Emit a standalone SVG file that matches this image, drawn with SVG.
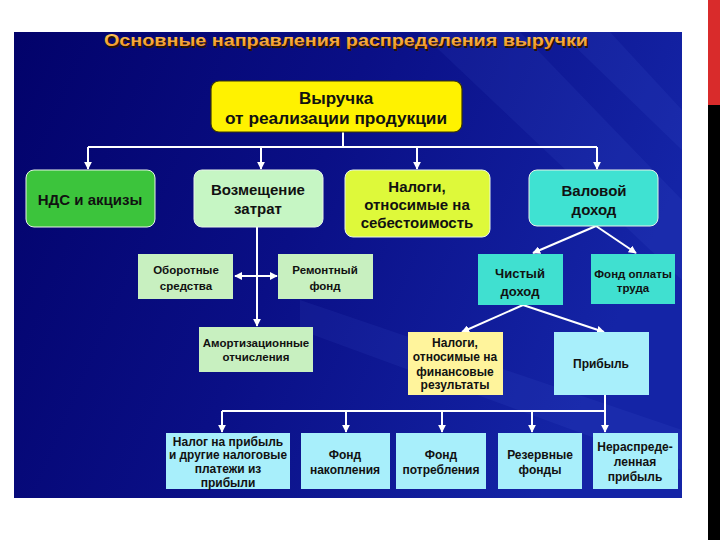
<svg xmlns="http://www.w3.org/2000/svg" width="720" height="540" viewBox="0 0 720 540">
<defs>
<linearGradient id="bg" x1="0" y1="0" x2="1" y2="0.3">
<stop offset="0" stop-color="#02026a"/>
<stop offset="0.5" stop-color="#0a0f86"/>
<stop offset="1" stop-color="#1424a6"/>
</linearGradient>
<linearGradient id="ttl" x1="0" y1="0" x2="0" y2="1">
<stop offset="0" stop-color="#ffd060"/>
<stop offset="1" stop-color="#ee8a1c"/>
</linearGradient>
<marker id="ah" viewBox="0 0 10 10" refX="9" refY="5" markerWidth="8" markerHeight="8" markerUnits="userSpaceOnUse" orient="auto-start-reverse">
<path d="M0,0 L10,5 L0,10 z" fill="#ffffff"/>
</marker>
<style>
.t{font-family:"Liberation Sans",Arial,"DejaVu Sans",sans-serif;font-weight:bold;fill:#111;text-anchor:middle}
.b15{font-size:15px}
.b12{font-size:12px}
.b11{font-size:11.5px}
.ln{stroke:#ffffff;stroke-width:2;fill:none}
.ar{marker-end:url(#ah)}
.bd{stroke:#e8f4e8;stroke-width:1}
</style>
</defs>
<rect x="0" y="0" width="720" height="540" fill="#ffffff"/>
<rect x="708" y="0" width="12" height="105" fill="#d92b2b"/>
<rect x="708" y="105" width="12" height="435" fill="#000000"/>
<rect x="14" y="32" width="668" height="466" fill="url(#bg)"/>
<g opacity="0.07" fill="#6a8cff">
<polygon points="420,32 520,32 682,200 682,280"/>
<polygon points="560,32 610,32 682,110 682,150"/>
<polygon points="300,300 682,430 682,470 300,330"/>
</g>
<g id="title">
<text x="346" y="46" class="t" style="font-size:17px;fill:#2a1400" textLength="484" lengthAdjust="spacingAndGlyphs" transform="translate(1.5,1.5)">Основные направления распределения выручки</text>
<text x="346" y="46" class="t" style="font-size:17px;fill:url(#ttl)" textLength="484" lengthAdjust="spacingAndGlyphs">Основные направления распределения выручки</text>
</g>
<g id="connectors">
<path class="ln" d="M343,132 V147 M88,147 H597"/>
<path class="ln ar" d="M88,147 V169"/>
<path class="ln ar" d="M261,147 V169"/>
<path class="ln ar" d="M417,147 V169"/>
<path class="ln ar" d="M597,147 V169"/>
<path class="ln ar" d="M257,227 V326"/>
<path class="ln" d="M235,276 H277" marker-start="url(#ah)" marker-end="url(#ah)"/>
<path class="ln ar" d="M596,226 L533,253"/>
<path class="ln ar" d="M596,226 L636,253"/>
<path class="ln ar" d="M523,305 L462,332"/>
<path class="ln ar" d="M523,305 L604,332"/>
<path class="ln" d="M605,395 V411 M222,411 H605"/>
<path class="ln ar" d="M222,411 V432"/>
<path class="ln ar" d="M346,411 V432"/>
<path class="ln ar" d="M442,411 V432"/>
<path class="ln ar" d="M532,411 V432"/>
<path class="ln ar" d="M605,411 V432"/>
</g>
<g id="revenue">
<rect x="211" y="81" width="251" height="51" rx="8" fill="#fff200" stroke="#3a3600" stroke-width="1.2"/>
<text x="336" y="104" class="t" style="font-size:17px">Выручка</text>
<text x="336" y="124" class="t" style="font-size:17px" textLength="222" lengthAdjust="spacingAndGlyphs">от реализации продукции</text>
</g>
<g id="nds">
<rect x="26" y="170" width="129" height="57" rx="8" fill="#3cc43c" class="bd"/>
<text x="90" y="205" class="t b15">НДС и акцизы</text>
</g>
<g id="vozmeshchenie">
<rect x="194" y="170" width="129" height="57" rx="8" fill="#c6f6c4" class="bd"/>
<text x="258" y="195" class="t b15">Возмещение</text>
<text x="258" y="214" class="t b15">затрат</text>
</g>
<g id="nalogi-sebestoimost">
<rect x="345" y="170" width="145" height="67" rx="8" fill="#def93a" class="bd"/>
<text x="417" y="192" class="t b15">Налоги,</text>
<text x="417" y="210" class="t b15">относимые на</text>
<text x="417" y="228" class="t b15">себестоимость</text>
</g>
<g id="valovoy">
<rect x="529" y="170" width="129" height="56" rx="8" fill="#3fe2d2" class="bd"/>
<text x="594" y="196" class="t b15">Валовой</text>
<text x="594" y="215" class="t b15">доход</text>
</g>
<g id="oborotnye">
<rect x="138" y="254" width="95" height="45" fill="#c8f0c0"/>
<text x="186" y="274" class="t b11">Оборотные</text>
<text x="186" y="290" class="t b11">средства</text>
</g>
<g id="remontny">
<rect x="278" y="254" width="95" height="45" fill="#c8f0c0"/>
<text x="325" y="274" class="t b11">Ремонтный</text>
<text x="325" y="290" class="t b11">фонд</text>
</g>
<g id="amortizatsiya">
<rect x="199" y="327" width="114" height="45" fill="#c8f0c0"/>
<text x="256" y="347" class="t b11">Амортизационные</text>
<text x="256" y="361" class="t b11">отчисления</text>
</g>
<g id="chistyi">
<rect x="478" y="254" width="85" height="51" fill="#40e0d0"/>
<text x="520" y="278" class="t" style="font-size:13px">Чистый</text>
<text x="520" y="296" class="t" style="font-size:13px">доход</text>
</g>
<g id="fond-oplaty">
<rect x="591" y="254" width="84" height="50" fill="#40e0d0"/>
<text x="633" y="278" class="t b11">Фонд оплаты</text>
<text x="633" y="292" class="t b11">труда</text>
</g>
<g id="nalogi-fin">
<rect x="408" y="332" width="95" height="63" fill="#fff49c"/>
<text x="455" y="347" class="t b12">Налоги,</text>
<text x="455" y="361" class="t b12">относимые на</text>
<text x="455" y="376" class="t b12">финансовые</text>
<text x="455" y="389" class="t b12">результаты</text>
</g>
<g id="pribyl">
<rect x="554" y="332" width="95" height="63" fill="#a8effb"/>
<text x="601" y="368" class="t b12">Прибыль</text>
</g>
<g id="nalog-na-pribyl">
<rect x="166" y="433" width="124" height="56" fill="#a8effb"/>
<text x="228" y="446" class="t b12">Налог на прибыль</text>
<text x="228" y="459" class="t b12" textLength="118" lengthAdjust="spacingAndGlyphs">и другие налоговые</text>
<text x="228" y="473" class="t b12">платежи из</text>
<text x="228" y="487" class="t b12">прибыли</text>
</g>
<g id="fond-nakopleniya">
<rect x="301" y="433" width="89" height="56" fill="#a8effb"/>
<text x="345" y="459" class="t b12">Фонд</text>
<text x="345" y="474" class="t b12">накопления</text>
</g>
<g id="fond-potrebleniya">
<rect x="396" y="433" width="90" height="56" fill="#a8effb"/>
<text x="441" y="459" class="t b12">Фонд</text>
<text x="441" y="474" class="t b12">потребления</text>
</g>
<g id="rezervnye">
<rect x="498" y="433" width="84" height="56" fill="#a8effb"/>
<text x="540" y="459" class="t b12">Резервные</text>
<text x="540" y="474" class="t b12">фонды</text>
</g>
<g id="neraspredelennaya">
<rect x="593" y="433" width="85" height="56" fill="#a8effb"/>
<text x="635" y="451" class="t b12">Нераспреде-</text>
<text x="635" y="466" class="t b12">ленная</text>
<text x="635" y="481" class="t b12">прибыль</text>
</g>
</svg>
